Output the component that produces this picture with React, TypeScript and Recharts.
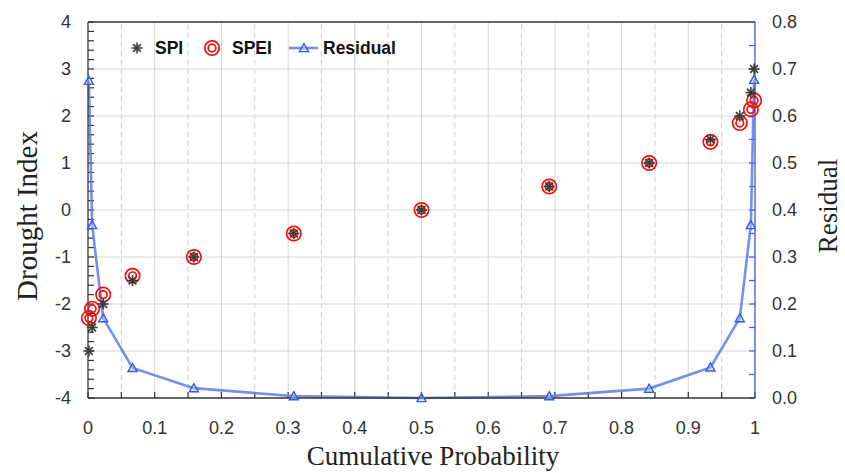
import React from 'react';
import { ComposedChart, Scatter, Line, XAxis, YAxis, ReferenceLine } from 'recharts';

// ---- data ----
const probability = [0.00135, 0.0062, 0.0228, 0.0668, 0.1587, 0.3085, 0.5, 0.6915, 0.8413, 0.9332, 0.9772, 0.9938, 0.99865];
const spiValues = [-3, -2.5, -2, -1.5, -1, -0.5, 0, 0.5, 1, 1.5, 2, 2.5, 3];
const speiValues = [-2.3, -2.1, -1.8, -1.4, -1.0, -0.5, 0, 0.5, 1.0, 1.45, 1.85, 2.14, 2.33];
const residualValues = [0.675, 0.368, 0.17, 0.064, 0.021, 0.004, 0.0, 0.004, 0.02, 0.065, 0.17, 0.368, 0.677];

// ---- ticks ----
const xTicks = [0, 0.05, 0.1, 0.15, 0.2, 0.25, 0.3, 0.35, 0.4, 0.45, 0.5, 0.55, 0.6, 0.65, 0.7, 0.75, 0.8, 0.85, 0.9, 0.95, 1];
const leftTicks = Array.from({ length: 41 }, (_, i) => Math.round((-4 + i * 0.2) * 10) / 10);
const rightTicks = [0, 0.05, 0.1, 0.15, 0.2, 0.25, 0.3, 0.35, 0.4, 0.45, 0.5, 0.55, 0.6, 0.65, 0.7, 0.75, 0.8];
const gridXSolid = [0.1, 0.2, 0.3, 0.4, 0.5, 0.6, 0.7, 0.8, 0.9];
const gridXDashed = [0.05, 0.15, 0.25, 0.35, 0.45, 0.55, 0.65, 0.75, 0.85, 0.95];
const gridY = [-3, -2, -1, 0, 1, 2, 3];

const spiData = probability.map((x, i) => ({ x, y: spiValues[i] }));
const speiData = probability.map((x, i) => ({ x, y: speiValues[i] }));
const residualData = probability.map((x, i) => ({ x, r: residualValues[i] }));

const isTenth = (v: number) => Math.abs(v * 10 - Math.round(v * 10)) < 1e-6;
const tickStyle = { fill: '#333', fontSize: 18, fontFamily: 'Liberation Sans, Arial, sans-serif' };
const BLUE = '#3a5ad8';
const SERIF = 'Liberation Serif, Times New Roman, serif';
const SANS = 'Liberation Sans, Arial, sans-serif';

// inward tick-mark lengths, in data units of each axis
const X_TICK_LEN = 0.13; // along left y units
const Y_TICK_LEN = 0.009; // along x units

const StarShape = (props: any) => {
  const { cx, cy } = props;
  if (cx == null || cy == null) return null;
  const r = 5.5;
  const d = r * 0.7071;
  return (
    <g stroke="#3a3a3a" strokeWidth={1.6}>
      <line x1={cx - r} y1={cy} x2={cx + r} y2={cy} />
      <line x1={cx} y1={cy - r} x2={cx} y2={cy + r} />
      <line x1={cx - d} y1={cy - d} x2={cx + d} y2={cy + d} />
      <line x1={cx - d} y1={cy + d} x2={cx + d} y2={cy - d} />
    </g>
  );
};

const DoubleCircle = (props: any) => {
  const { cx, cy } = props;
  if (cx == null || cy == null) return null;
  return (
    <g fill="none" stroke="#f01010" strokeWidth={1.7}>
      <circle cx={cx} cy={cy} r={7.2} />
      <circle cx={cx} cy={cy} r={3.8} />
    </g>
  );
};

const TriangleDot = (props: any) => {
  const { cx, cy, index } = props;
  if (cx == null || cy == null) return <g key={index} />;
  const s = 4.5;
  return (
    <path
      key={index}
      d={`M${cx},${cy - s} L${cx + s},${cy + s * 0.8} L${cx - s},${cy + s * 0.8} Z`}
      fill="rgba(200,210,250,0.4)"
      stroke={BLUE}
      strokeWidth={1.4}
    />
  );
};

export default function App() {
  return (
    <div style={{ position: 'absolute', left: 0, top: 0, width: 845, height: 473, background: '#fff', overflow: 'hidden' }}>
      <ComposedChart width={845} height={473} margin={{ top: 22, right: 30, bottom: 35, left: 28 }}>
        <XAxis
          type="number"
          dataKey="x"
          domain={[0, 1]}
          ticks={xTicks}
          interval={0}
          tickSize={-6}
          tickMargin={29}
          tickFormatter={(v: number) => (isTenth(v) ? String(Math.round(v * 10) / 10) : '')}
          tick={tickStyle}
          tickLine={false}
          stroke="#333"
          axisLine={{ stroke: '#333', strokeWidth: 1.3 }}
          height={40}
        />
        <YAxis
          yAxisId="left"
          type="number"
          domain={[-4, 4]}
          ticks={leftTicks}
          interval={0}
          tickSize={-6}
          tickMargin={23}
          tickFormatter={(v: number) => (Math.abs(v - Math.round(v)) < 1e-6 ? String(Math.round(v)) : '')}
          tick={tickStyle}
          tickLine={false}
          stroke="#333"
          axisLine={{ stroke: '#333', strokeWidth: 1.3 }}
          width={60}
        />
        <YAxis
          yAxisId="right"
          orientation="right"
          type="number"
          domain={[0, 0.8]}
          ticks={rightTicks}
          interval={0}
          tickSize={-6}
          tickMargin={23}
          tickFormatter={(v: number) => (isTenth(v) ? v.toFixed(1) : '')}
          tick={tickStyle}
          tickLine={false}
          stroke={BLUE}
          axisLine={{ stroke: BLUE, strokeWidth: 1.3 }}
          width={60}
        />
        {gridXDashed.map((v) => (
          <ReferenceLine key={'xd' + v} x={v} yAxisId="left" stroke="#cfcfcf" strokeDasharray="5 4" strokeWidth={1} />
        ))}
        {gridXSolid.map((v) => (
          <ReferenceLine key={'xs' + v} x={v} yAxisId="left" stroke="#d6d6d6" strokeWidth={1} />
        ))}
        {gridY.map((v) => (
          <ReferenceLine key={'y' + v} y={v} yAxisId="left" stroke="#d6d6d6" strokeWidth={1} />
        ))}
        <ReferenceLine y={4} yAxisId="left" stroke="#333" strokeWidth={1.3} />
        {/* inward tick marks */}
        {xTicks.map((v) => (
          <ReferenceLine
            key={'xt' + v}
            yAxisId="left"
            ifOverflow="visible"
            segment={[{ x: v, y: -4 }, { x: v, y: -4 + X_TICK_LEN }]}
            stroke="#333"
            strokeWidth={1.2}
          />
        ))}
        {leftTicks.map((v) => (
          <ReferenceLine
            key={'lt' + v}
            yAxisId="left"
            ifOverflow="visible"
            segment={[{ x: 0, y: v }, { x: Y_TICK_LEN, y: v }]}
            stroke="#333"
            strokeWidth={1.2}
          />
        ))}
        {rightTicks.map((v) => (
          <ReferenceLine
            key={'rt' + v}
            yAxisId="right"
            ifOverflow="visible"
            segment={[{ x: 1 - Y_TICK_LEN, y: v }, { x: 1, y: v }]}
            stroke={BLUE}
            strokeWidth={1.2}
          />
        ))}
        <Line
          yAxisId="right"
          data={residualData}
          dataKey="r"
          type="linear"
          stroke="#5d7ce6"
          strokeWidth={2.6}
          strokeOpacity={0.85}
          dot={TriangleDot}
          activeDot={false}
          isAnimationActive={false}
        />
        <Scatter yAxisId="left" data={speiData} dataKey="y" shape={DoubleCircle} isAnimationActive={false} />
        <Scatter yAxisId="left" data={spiData} dataKey="y" shape={StarShape} isAnimationActive={false} />
      </ComposedChart>

      {/* legend */}
      <svg style={{ position: 'absolute', left: 0, top: 0 }} width={845} height={80}>
        <StarShape cx={137} cy={48} />
        <text x={155} y={54} fontFamily={SANS} fontWeight="bold" fontSize={17.5} fill="#111">SPI</text>
        <DoubleCircle cx={212} cy={48} />
        <text x={232} y={54} fontFamily={SANS} fontWeight="bold" fontSize={17.5} fill="#111">SPEI</text>
        <line x1={289} y1={48} x2={318} y2={48} stroke="#5d7ce6" strokeWidth={2.6} strokeOpacity={0.85} />
        <TriangleDot cx={304} cy={48} />
        <text x={323} y={54} fontFamily={SANS} fontWeight="bold" fontSize={17.5} fill="#111">Residual</text>
      </svg>

      {/* axis titles */}
      <div style={{ position: 'absolute', left: 433, top: 441, lineHeight: '30px', transform: 'translateX(-50%)', whiteSpace: 'nowrap', fontFamily: SERIF, fontSize: 27, color: '#222' }}>
        Cumulative Probability
      </div>
      <div style={{ position: 'absolute', left: 27, top: 216, transform: 'translate(-50%, -50%) rotate(-90deg)', whiteSpace: 'nowrap', fontFamily: SERIF, fontSize: 29, color: '#222' }}>
        Drought Index
      </div>
      <div style={{ position: 'absolute', left: 828, top: 206, lineHeight: '28px', transform: 'translate(-50%, -50%) rotate(-90deg)', whiteSpace: 'nowrap', fontFamily: SERIF, fontSize: 27, color: '#222' }}>
        Residual
      </div>
    </div>
  );
}
